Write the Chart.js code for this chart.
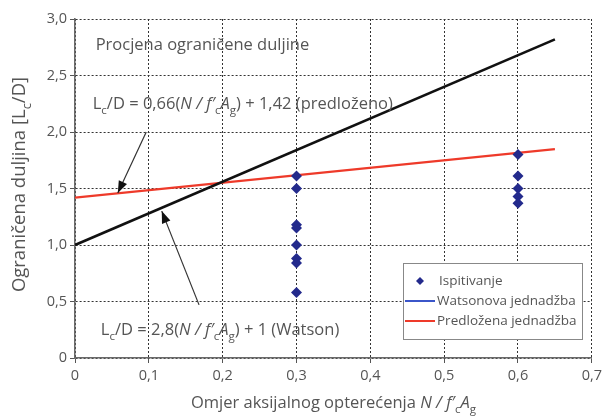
<!DOCTYPE html>
<html>
<head>
<meta charset="utf-8">
<script src="https://cdn.jsdelivr.net/npm/chart.js@4.4.1/dist/chart.umd.min.js"></script>
<style>
  html, body { margin: 0; padding: 0; background: #fff; }
  #wrap { width: 606px; height: 417px; }
</style>
</head>
<body>
<div id="wrap"><canvas id="chart" width="606" height="417"></canvas></div>
<script>
// measured points (x = N/f'cAg, y = Lc/D)
var testX = [0.3, 0.3, 0.3, 0.3, 0.3, 0.3, 0.3, 0.3, 0.6, 0.6, 0.6, 0.6, 0.6];
var testY = [1.61, 1.50, 1.18, 1.15, 1.00, 0.88, 0.84, 0.58, 1.80, 1.61, 1.50, 1.43, 1.37];

// equation lines, end points
var lineX = [0, 0.65];
var watsonY = [1.0, 2.82];
var proposedY = [1.42, 1.849];

var labels = ['Ispitivanje', 'Watsonova jednadžba', 'Predložena jednadžba'];
var xStep = 0.1;
var yStep = 0.5;

var FONT = '"Open Sans", "Noto Sans", sans-serif';
var TXT = '#555555';

function toPts(xs, ys) {
    return xs.map(function (x, i) { return { x: x, y: ys[i] }; });
}
function fmt(v) {
    if (Math.abs(v) < 1e-9) return '0';
    return v.toFixed(1).replace('.', ',');
}

// draws text made of pieces, some italic / subscript
function drawRich(ctx, parts, x, y, size, align) {
    var w = 0;
    parts.forEach(function (p) {
        var s = p.sub ? size * 0.7 : size;
        ctx.font = (p.it ? 'italic ' : '') + s + 'px ' + FONT;
        p.w = ctx.measureText(p.t).width;
        w += p.w;
    });
    var cx = align === 'center' ? x - w / 2 : x;
    ctx.textBaseline = 'alphabetic';
    ctx.textAlign = 'left';
    parts.forEach(function (p) {
        var s = p.sub ? size * 0.7 : size;
        ctx.font = (p.it ? 'italic ' : '') + s + 'px ' + FONT;
        ctx.fillText(p.t, cx, y + (p.sub ? size * 0.3 : 0));
        cx += p.w;
    });
}

function arrow(ctx, x1, y1, x2, y2) {
    var a = Math.atan2(y2 - y1, x2 - x1);
    ctx.save();
    ctx.strokeStyle = '#333';
    ctx.fillStyle = '#111';
    ctx.lineWidth = 1.2;
    ctx.beginPath();
    ctx.moveTo(x1, y1);
    ctx.lineTo(x2, y2);
    ctx.stroke();
    ctx.beginPath();
    ctx.moveTo(x2, y2);
    ctx.lineTo(x2 - 12 * Math.cos(a) + 4.5 * Math.sin(a), y2 - 12 * Math.sin(a) - 4.5 * Math.cos(a));
    ctx.lineTo(x2 - 12 * Math.cos(a) - 4.5 * Math.sin(a), y2 - 12 * Math.sin(a) + 4.5 * Math.cos(a));
    ctx.closePath();
    ctx.fill();
    ctx.restore();
}

var extras = {
    id: 'extras',
    afterDatasetsDraw: function (chart) {
        var ctx = chart.ctx, xs = chart.scales.x, ys = chart.scales.y, ca = chart.chartArea;
        var X = function (v) { return xs.getPixelForValue(v); };
        var Y = function (v) { return ys.getPixelForValue(v); };
        ctx.save();
        ctx.fillStyle = TXT;

        drawRich(ctx, [{ t: 'Procjena ograničene duljine' }], X(0.028), Y(2.73), 16.5);
        drawRich(ctx, [
            { t: 'L' }, { t: 'c', sub: true }, { t: '/D = 0,66(' },
            { t: 'N / f′', it: true }, { t: 'c', sub: true }, { t: 'A', it: true }, { t: 'g', sub: true },
            { t: ') + 1,42 (predloženo)' }
        ], X(0.024), Y(2.2), 16.5);
        drawRich(ctx, [
            { t: 'L' }, { t: 'c', sub: true }, { t: '/D = 2,8(' },
            { t: 'N / f′', it: true }, { t: 'c', sub: true }, { t: 'A', it: true }, { t: 'g', sub: true },
            { t: ') + 1 (Watson)' }
        ], X(0.035), Y(0.2), 16.5);

        arrow(ctx, X(0.0965), Y(2.0), X(0.058), Y(1.46));
        arrow(ctx, X(0.168), Y(0.47), X(0.1175), Y(1.30));

        // legend box
        var lx = 403, ly = 263, lw = 179, lh = 76;
        ctx.fillStyle = '#fff';
        ctx.fillRect(lx, ly, lw, lh);
        ctx.strokeStyle = '#888';
        ctx.lineWidth = 1;
        ctx.strokeRect(lx + 0.5, ly + 0.5, lw, lh);
        var rows = [ly + 18, ly + 38, ly + 58];
        var ds = chart.data.datasets;
        ctx.fillStyle = ds[0].backgroundColor;
        ctx.beginPath();
        ctx.moveTo(420, rows[0] - 4);
        ctx.lineTo(424, rows[0]);
        ctx.lineTo(420, rows[0] + 4);
        ctx.lineTo(416, rows[0]);
        ctx.closePath();
        ctx.fill();
        ctx.lineWidth = 2;
        ctx.strokeStyle = '#3b56c9';
        ctx.beginPath(); ctx.moveTo(405, rows[1]); ctx.lineTo(435, rows[1]); ctx.stroke();
        ctx.strokeStyle = ds[2].borderColor;
        ctx.beginPath(); ctx.moveTo(405, rows[2]); ctx.lineTo(435, rows[2]); ctx.stroke();
        ctx.fillStyle = TXT;
        ctx.font = '13.5px ' + FONT;
        ctx.textBaseline = 'middle';
        ctx.textAlign = 'left';
        ds.forEach(function (d, i) { ctx.fillText(d.label, i === 0 ? 439 : 437, rows[i]); });

        // axis titles
        ctx.fillStyle = TXT;
        drawRich(ctx, [
            { t: 'Omjer aksijalnog opterećenja ' }, { t: 'N / f′', it: true }, { t: 'c', sub: true },
            { t: 'A', it: true }, { t: 'g', sub: true }
        ], (ca.left + ca.right) / 2, 408, 16.5, 'center');
        ctx.translate(25, (ca.top + ca.bottom) / 2 - 4);
        ctx.rotate(-Math.PI / 2);
        drawRich(ctx, [{ t: 'Ograničena duljina [L' }, { t: 'c', sub: true }, { t: '/D]' }], 0, 0, 18.5, 'center');
        ctx.restore();
    }
};

var gridOpts = { display: true, drawOnChartArea: true, color: '#333333', lineWidth: 1, tickLength: 5, tickColor: '#555555' };

new Chart(document.getElementById('chart'), {
    type: 'scatter',
    data: {
        datasets: [
            {
                label: labels[0],
                data: toPts(testX, testY),
                backgroundColor: '#232a8c',
                borderColor: '#232a8c',
                pointStyle: 'rectRot',
                pointRadius: 5.5,
                pointBorderWidth: 0
            },
            {
                label: labels[1],
                data: toPts(lineX, watsonY),
                showLine: true,
                borderColor: '#111111',
                borderWidth: 2.6,
                pointRadius: 0
            },
            {
                label: labels[2],
                data: toPts(lineX, proposedY),
                showLine: true,
                borderColor: '#ee3a2a',
                borderWidth: 2.2,
                pointRadius: 0
            }
        ]
    },
    options: {
        responsive: false,
        animation: false,
        layout: { padding: { top: 19, right: 9, left: 0, bottom: 0 } },
        plugins: { legend: { display: false }, tooltip: { enabled: false } },
        scales: {
            x: {
                type: 'linear',
                min: 0, max: 0.7,
                afterFit: function (s) { s.height = 59; },
                grid: gridOpts,
                border: { display: true, color: '#6a6a6a', width: 1.6, dash: [2, 2] },
                ticks: { stepSize: xStep, color: TXT, font: { family: FONT, size: 14.5 }, padding: 4, callback: fmt }
            },
            y: {
                type: 'linear',
                min: 0, max: 3,
                afterFit: function (s) { s.width = 75; },
                grid: gridOpts,
                border: { display: true, color: '#6a6a6a', width: 1.6, dash: [2, 2] },
                ticks: { stepSize: yStep, color: TXT, font: { family: FONT, size: 14.5 }, padding: 3, callback: fmt }
            }
        }
    },
    plugins: [extras]
});
</script>
</body>
</html>
